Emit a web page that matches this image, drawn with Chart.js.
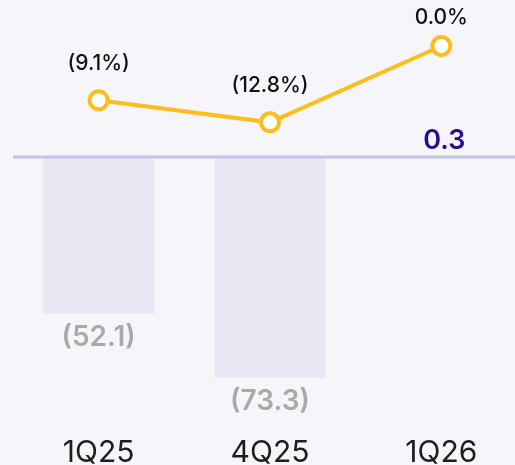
<!DOCTYPE html>
<html>
<head>
<meta charset="utf-8">
<script src="https://cdn.jsdelivr.net/npm/chart.js@4"></script>
<style>
  html, body { margin: 0; padding: 0; background: #f6f5fa; overflow: hidden; }
  #wrap { width: 527px; height: 465px; position: relative; }
</style>
</head>
<body>
<div id="wrap"><canvas id="chartResultado"></canvas></div>
<script>
const categorias = ['1Q25', '4Q25', '1Q26'];
const valores = [-52.1, -73.3, 0.3];
const margen = [-9.1, -12.8, 0.0];

const fmtValor = v => v < 0 ? `(${Math.abs(v).toFixed(1)})` : v.toFixed(1);
const fmtMargen = v => v < 0 ? `(${Math.abs(v).toFixed(1)}%)` : `${v.toFixed(1)}%`;

const etiquetas = {
    id: 'etiquetas',
    afterDatasetDraw(chart, args) {
        // linea del cero por encima de las barras
        if (args.meta.type !== 'bar') return;
        const ctx = chart.ctx;
        const y = chart.scales.y.getPixelForValue(0);
        ctx.save();
        ctx.strokeStyle = '#c2c3e6';
        ctx.lineWidth = 3;
        ctx.beginPath();
        ctx.moveTo(chart.chartArea.left, y);
        ctx.lineTo(chart.width, y);
        ctx.stroke();
        ctx.restore();
    },
    afterDatasetsDraw(chart) {
        const ctx = chart.ctx;
        ctx.save();
        ctx.textAlign = 'center';
        ctx.textBaseline = 'middle';

        const barras = chart.getDatasetMeta(0).data;
        barras.forEach((bar, i) => {
            const v = valores[i];
            if (v < 0) {
                ctx.font = '600 28px Inter';
                ctx.fillStyle = '#a9a9a9';
                ctx.fillText(fmtValor(v), bar.x, bar.y + 24);
            } else {
                ctx.font = '600 27px Inter';
                ctx.fillStyle = '#2c0b8e';
                ctx.fillText(fmtValor(v), bar.x + 3, bar.y - 15);
            }
        });

        const puntos = chart.getDatasetMeta(1).data;
        ctx.font = '500 21px Inter';
        ctx.fillStyle = '#111111';
        puntos.forEach((p, i) => {
            ctx.fillText(fmtMargen(margen[i]), p.x, Math.max(p.y - 37, 18));
        });
        ctx.restore();
    }
};

const chartResultado = new Chart(document.getElementById('chartResultado'), {
    data: {
        labels: categorias,
        datasets: [
            {
                type: 'bar',
                data: valores,
                backgroundColor: ['#e8e8f4', '#e8e8f4', '#c2c3e6'],
                barPercentage: 0.647,
                categoryPercentage: 1,
                yAxisID: 'y',
                order: 2
            },
            {
                type: 'line',
                data: margen,
                borderColor: '#fdbd1c',
                borderWidth: 4,
                pointRadius: 9,
                pointBorderWidth: 4,
                pointBackgroundColor: '#ffffff',
                pointBorderColor: '#fdbd1c',
                yAxisID: 'y2',
                order: 1
            }
        ]
    },
    options: {
        responsive: true,
        maintainAspectRatio: false,
        animation: false,
        layout: { autoPadding: false, padding: { left: 13, right: 0, top: 0, bottom: 0 } },
        plugins: { legend: { display: false }, tooltip: { enabled: false } },
        scales: {
            x: {
                grid: { display: false, drawTicks: false },
                border: { display: false },
                ticks: { color: '#1e1e1e', font: { family: 'Inter', size: 30 }, padding: 25 },
                afterFit: scale => { scale.height = 55; }
            },
            y: { display: false, min: -84.05, max: 52.16 },
            y2: { display: false, min: -61.0, max: 7.7 }
        }
    },
    plugins: [etiquetas]
});
</script>
</body>
</html>
